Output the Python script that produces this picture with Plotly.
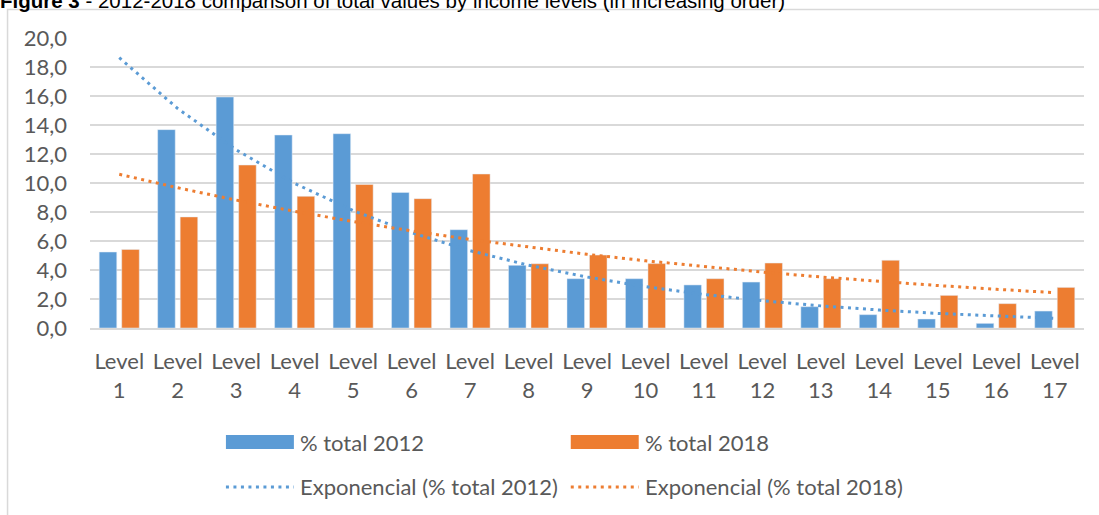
import numpy as np
import plotly.graph_objects as go

# Share of total by income level, 2012 vs 2018 (%)
levels = [f"Level {i}" for i in range(1, 18)]
level_nums = list(range(1, 18))
total_2012 = [5.24, 13.68, 15.93, 13.31, 13.4, 9.35, 6.78, 4.32, 3.4, 3.4,
              2.97, 3.17, 1.47, 0.92, 0.62, 0.32, 1.17]
total_2018 = [5.42, 7.66, 11.24, 9.08, 9.9, 8.92, 10.62, 4.43, 5.03, 4.44,
              3.4, 4.48, 3.4, 4.67, 2.25, 1.68, 2.8]
y_ticks = [0, 2, 4, 6, 8, 10, 12, 14, 16, 18, 20]

BLUE = "#5B9BD5"
ORANGE = "#ED7D31"
GRID = "#D9D9D9"
TEXT = "#595959"
FONT = "Lato, 'Open Sans', sans-serif"
FS = 22

W, H = 1099, 515
L, R, T, B = 90, 14.5, 38, 187
PW, PH = W - L - R, H - T - B


def px(x):
    return (x - L) / PW


def py(y):
    return (H - B - y) / PH


def exp_trend(values):
    """Exponential trendline y = a*exp(b*x), least squares on log(y)."""
    x = np.array(level_nums, dtype=float)
    b, ln_a = np.polyfit(x, np.log(values), 1)
    return list(np.exp(ln_a) * np.exp(b * x))


trend_2012 = exp_trend(total_2012)
trend_2018 = exp_trend(total_2018)

fig = go.Figure()
fig.add_trace(go.Bar(x=level_nums, y=total_2012, name="% total 2012",
                     marker_color=BLUE))
fig.add_trace(go.Bar(x=level_nums, y=total_2018, name="% total 2018",
                     marker_color=ORANGE))
DOT = "3px,4.5px"
fig.add_trace(go.Scatter(x=level_nums, y=trend_2012, mode="lines",
                         name="Exponencial (% total 2012)",
                         line=dict(color=BLUE, width=3, dash=DOT)))
fig.add_trace(go.Scatter(x=level_nums, y=trend_2018, mode="lines",
                         name="Exponencial (% total 2018)",
                         line=dict(color=ORANGE, width=3, dash=DOT)))

shapes = []
annotations = []

# outer chart frame
shapes.append(dict(type="rect", xref="paper", yref="paper",
                   x0=px(7.5), x1=px(1110), y0=py(530), y1=py(9.5),
                   line=dict(color=GRID, width=1.5), layer="below"))

# legend: swatches and dotted samples with their labels
legend_rows = [
    (442, [("rect", BLUE, 226, "% total 2012"), ("rect", ORANGE, 571, "% total 2018")]),
    (487, [("dot", BLUE, 226, "Exponencial (% total 2012)"),
           ("dot", ORANGE, 571, "Exponencial (% total 2018)")]),
]
for ypix, items in legend_rows:
    for kind, color, x0, label in items:
        if kind == "rect":
            shapes.append(dict(type="rect", xref="paper", yref="paper",
                               x0=px(x0), x1=px(x0 + 68), y0=py(ypix + 7), y1=py(ypix - 7),
                               fillcolor=color, line=dict(width=0)))
        else:
            shapes.append(dict(type="line", xref="paper", yref="paper",
                               x0=px(x0), x1=px(x0 + 68), y0=py(ypix), y1=py(ypix),
                               line=dict(color=color, width=3, dash=DOT)))
        annotations.append(dict(xref="paper", yref="paper", x=px(x0 + 72), y=py(ypix),
                                xanchor="left", yanchor="middle", showarrow=False,
                                text=label, font=dict(family=FONT, size=FS, color=TEXT)))

# figure caption along the top edge
annotations.append(dict(xref="paper", yref="paper", x=px(0), y=py(8),
                        xanchor="left", yanchor="bottom", showarrow=False,
                        xshift=-2, yshift=-6,
                        text="<b>Figure 3</b> - 2012-2018 comparison of total values by income levels (in increasing order)",
                        font=dict(family="'Liberation Sans Narrow', 'Liberation Sans', Arial, sans-serif",
                                  size=20.5, color="#000000")))

fig.update_layout(
    width=W, height=H,
    margin=dict(l=L, r=R, t=T, b=B),
    paper_bgcolor="white", plot_bgcolor="white",
    barmode="group", bargap=0.23, bargroupgap=0.22,
    showlegend=False,
    separators=",.",
    font=dict(family=FONT, size=FS, color=TEXT),
    shapes=shapes, annotations=annotations,
    xaxis=dict(range=[0.5, 17.5], tickmode="array", tickvals=level_nums,
               ticktext=[lv.replace(" ", "<br>") for lv in levels],
               showgrid=False, zeroline=False, showline=True,
               linecolor=GRID, linewidth=1.5, ticks="",
               ticklabelstandoff=13, tickfont=dict(size=FS, color=TEXT)),
    yaxis=dict(range=[0, 20], tickmode="array", tickvals=y_ticks,
               tickformat=".1f", showgrid=True, gridcolor=GRID, gridwidth=1.5,
               zeroline=False, showline=False, ticks="",
               ticklabelstandoff=22, tickfont=dict(size=FS, color=TEXT)),
)

fig.write_html("out.html")
